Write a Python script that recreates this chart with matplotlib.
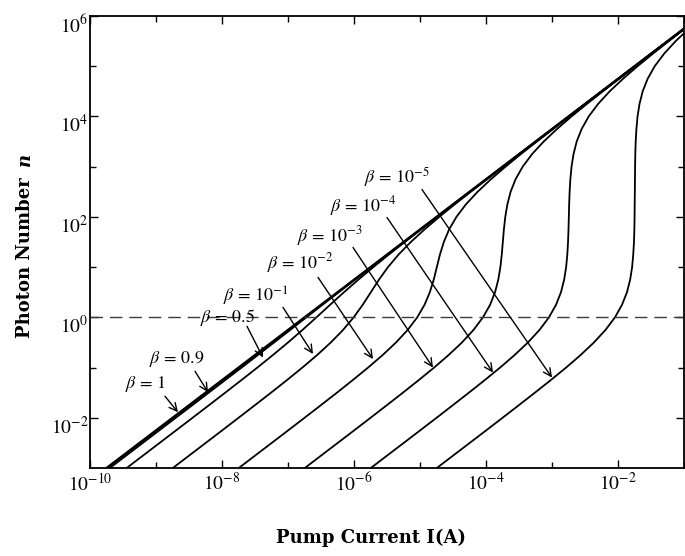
import numpy as np
import matplotlib
matplotlib.use('Agg')
import matplotlib.pyplot as plt
from matplotlib.transforms import ScaledTranslation
from matplotlib.ticker import NullFormatter

plt.rcParams['mathtext.fontset'] = 'stix'
plt.rcParams['font.family'] = ['STIXGeneral', 'DejaVu Serif']

# ---------------- data ----------------
# photon number grid, log10(n)
log_n = [-3.0, -2.75, -2.5, -2.25, -2.0, -1.75, -1.5, -1.25, -1.0, -0.75, -0.5, -0.25,
         0.0, 0.25, 0.5, 0.75, 1.0, 1.25, 1.5, 1.75, 2.0, 2.25, 2.5, 2.75,
         3.0, 3.25, 3.5, 3.75, 4.0, 4.25, 4.5, 4.75, 5.0, 5.25, 5.5, 5.75]

# pump current, log10(I [A]) for each beta curve at the n values above
logI_beta_1 = [-9.745, -9.495, -9.245, -8.995, -8.745, -8.495, -8.245, -7.995, -7.745, -7.495, -7.245, -6.995,
               -6.745, -6.495, -6.245, -5.995, -5.745, -5.495, -5.245, -4.995, -4.745, -4.495, -4.245, -3.995,
               -3.745, -3.495, -3.245, -2.995, -2.745, -2.495, -2.245, -1.995, -1.745, -1.495, -1.245, -0.995]
logI_beta_09 = [-9.699, -9.449, -9.199, -8.950, -8.700, -8.450, -8.201, -7.952, -7.703, -7.456, -7.210, -6.965,
                -6.722, -6.478, -6.234, -5.988, -5.741, -5.492, -5.244, -4.994, -4.745, -4.495, -4.245, -3.995,
                -3.745, -3.495, -3.245, -2.995, -2.745, -2.495, -2.245, -1.995, -1.745, -1.495, -1.245, -0.995]
logI_beta_05 = [-9.444, -9.194, -8.945, -8.695, -8.446, -8.198, -7.951, -7.706, -7.464, -7.228, -6.999, -6.780,
                -6.569, -6.362, -6.152, -5.934, -5.707, -5.473, -5.232, -4.988, -4.741, -4.493, -4.244, -3.994,
                -3.745, -3.495, -3.245, -2.995, -2.745, -2.495, -2.245, -1.995, -1.745, -1.495, -1.245, -0.995]
logI_beta_1e1 = [-8.745, -8.496, -8.246, -7.997, -7.749, -7.502, -7.257, -7.016, -6.782, -6.558, -6.351, -6.165,
                 -6.005, -5.868, -5.745, -5.622, -5.485, -5.325, -5.139, -4.932, -4.708, -4.474, -4.233, -3.988,
                 -3.741, -3.493, -3.244, -2.994, -2.745, -2.495, -2.245, -1.995, -1.745, -1.495, -1.245, -0.995]
logI_beta_1e2 = [-7.745, -7.496, -7.246, -6.997, -6.749, -6.503, -6.258, -6.019, -5.786, -5.565, -5.363, -5.186,
                 -5.042, -4.931, -4.851, -4.792, -4.745, -4.698, -4.639, -4.559, -4.448, -4.304, -4.127, -3.925,
                 -3.704, -3.472, -3.232, -2.987, -2.741, -2.493, -2.244, -1.994, -1.745, -1.495, -1.245, -0.995]
logI_beta_1e3 = [-6.745, -6.496, -6.246, -5.997, -5.749, -5.503, -5.259, -5.019, -4.786, -4.566, -4.364, -4.189,
                 -4.046, -3.938, -3.863, -3.814, -3.782, -3.761, -3.745, -3.729, -3.708, -3.676, -3.627, -3.552,
                 -3.444, -3.302, -3.126, -2.924, -2.704, -2.471, -2.232, -1.987, -1.741, -1.493, -1.244, -0.994]
logI_beta_1e4 = [-5.745, -5.496, -5.246, -4.997, -4.749, -4.503, -4.259, -4.019, -3.786, -3.566, -3.364, -3.189,
                 -3.046, -2.939, -2.864, -2.816, -2.786, -2.768, -2.757, -2.750, -2.745, -2.740, -2.733, -2.722,
                 -2.704, -2.674, -2.626, -2.551, -2.444, -2.301, -2.126, -1.924, -1.704, -1.471, -1.232, -0.987]
logI_beta_1e5 = [-4.745, -4.496, -4.246, -3.997, -3.749, -3.503, -3.259, -3.019, -2.786, -2.566, -2.364, -2.189,
                 -2.046, -1.939, -1.864, -1.816, -1.786, -1.769, -1.758, -1.752, -1.749, -1.747, -1.745, -1.743,
                 -1.741, -1.738, -1.732, -1.721, -1.704, -1.674, -1.626, -1.551, -1.444, -1.301, -1.126, -0.924]

curves = [logI_beta_1, logI_beta_09, logI_beta_05, logI_beta_1e1,
          logI_beta_1e2, logI_beta_1e3, logI_beta_1e4, logI_beta_1e5]

beta_labels = [r'$\beta\,=\,1$', r'$\beta\,=\,0.9$', r'$\beta\,=\,0.5$', r'$\beta\,=\,10^{-1}$',
               r'$\beta\,=\,10^{-2}$', r'$\beta\,=\,10^{-3}$', r'$\beta\,=\,10^{-4}$', r'$\beta\,=\,10^{-5}$']

threshold_n = 1.0  # dashed reference line

x_major = [1e-10, 1e-8, 1e-6, 1e-4, 1e-2]
x_major_labels = [r'$10^{-10}$', r'$10^{-8}$', r'$10^{-6}$', r'$10^{-4}$', r'$10^{-2}$']
x_minor = [1e-9, 1e-7, 1e-5, 1e-3, 1e-1]
y_major = [1e-2, 1e0, 1e2, 1e4, 1e6]
y_major_labels = [r'$10^{-2}$', r'$10^{0}$', r'$10^{2}$', r'$10^{4}$', r'$10^{6}$']
y_minor = [1e-1, 1e1, 1e3, 1e5]

# ---------------- layout of annotations (log10 data coords) ----------------
# (text_logI, text_logn, tail_logI, tail_logn, tip_logI, tip_logn)
annot_layout = [
    (-9.167, -1.332, -8.864, -1.571, -8.667, -1.890),
    (-8.682, -0.835, -8.409, -1.074, -8.212, -1.490),
    (-7.909, -0.010, -7.621, -0.179, -7.379, -0.800),
    (-7.485, 0.420, -7.076, 0.199, -6.621, -0.730),
    (-6.818, 1.074, -6.545, 0.795, -5.712, -0.830),
    (-6.364, 1.610, -6.015, 1.392, -4.803, -1.000),
    (-5.864, 2.207, -5.500, 1.988, -3.894, -1.100),
    (-5.348, 2.803, -4.970, 2.545, -3.000, -1.200),
]

# ---------------- figure ----------------
fig = plt.figure(figsize=(6.85, 5.56), dpi=100)
ax = fig.add_axes([90 / 685, (556 - 468) / 556, (684 - 90) / 685, (468 - 16) / 556])
ax.set_xscale('log')
ax.set_yscale('log')

n_vals = 10 ** np.array(log_n)
for i, lg in enumerate(curves):
    lw = 1.9 if i == 0 else 1.3
    ax.plot(10 ** np.array(lg), n_vals, color='black', lw=lw, solid_capstyle='butt')

ax.axhline(threshold_n, color='#3c3c3c', lw=1.0, ls=(0, (9, 5)))

ax.set_xlim(1e-10, 1e-1)
ax.set_ylim(1e-3, 1e6)

ax.set_xticks(x_major, x_major_labels)
ax.set_xticks(x_minor, minor=True)
ax.set_yticks(y_major, y_major_labels)
ax.set_yticks(y_minor, minor=True)
ax.xaxis.set_minor_formatter(NullFormatter())
ax.yaxis.set_minor_formatter(NullFormatter())

ax.tick_params(which='both', direction='in', top=True, right=True, width=1.0, labelsize=14)
ax.tick_params(which='major', length=6)
ax.tick_params(which='minor', length=4)
ax.tick_params(axis='x', which='major', pad=3)
ax.tick_params(axis='y', which='major', pad=1)

for lbl in ax.get_yticklabels():
    lbl.set_transform(lbl.get_transform() + ScaledTranslation(0, -5 / 72, fig.dpi_scale_trans))

for sp in ax.spines.values():
    sp.set_linewidth(1.3)

for lab, (tx, ty, ax0, ay0, ax1, ay1) in zip(beta_labels, annot_layout):
    ax.annotate('', xy=(10 ** ax1, 10 ** ay1), xytext=(10 ** ax0, 10 ** ay0),
                arrowprops=dict(arrowstyle='->', lw=1.0, color='black',
                                shrinkA=0, shrinkB=0, mutation_scale=14))
    ax.text(10 ** tx, 10 ** ty, lab, ha='center', va='center', fontsize=13)

# axis titles
fig.text(371 / 685, 1 - 538 / 556, 'Pump Current I(A)', fontfamily='DejaVu Serif',
         fontweight='bold', fontsize=13, ha='center', va='center')
fig.text(25 / 685, 1 - 258 / 556, 'Photon Number', fontfamily='DejaVu Serif',
         fontweight='bold', fontsize=13, ha='center', va='center', rotation=90)
fig.text(25 / 685, 1 - 159 / 556, 'n', fontfamily='DejaVu Serif', fontstyle='italic',
         fontweight='bold', fontsize=13, ha='center', va='center', rotation=90)

fig.savefig('out.png', dpi=100)
